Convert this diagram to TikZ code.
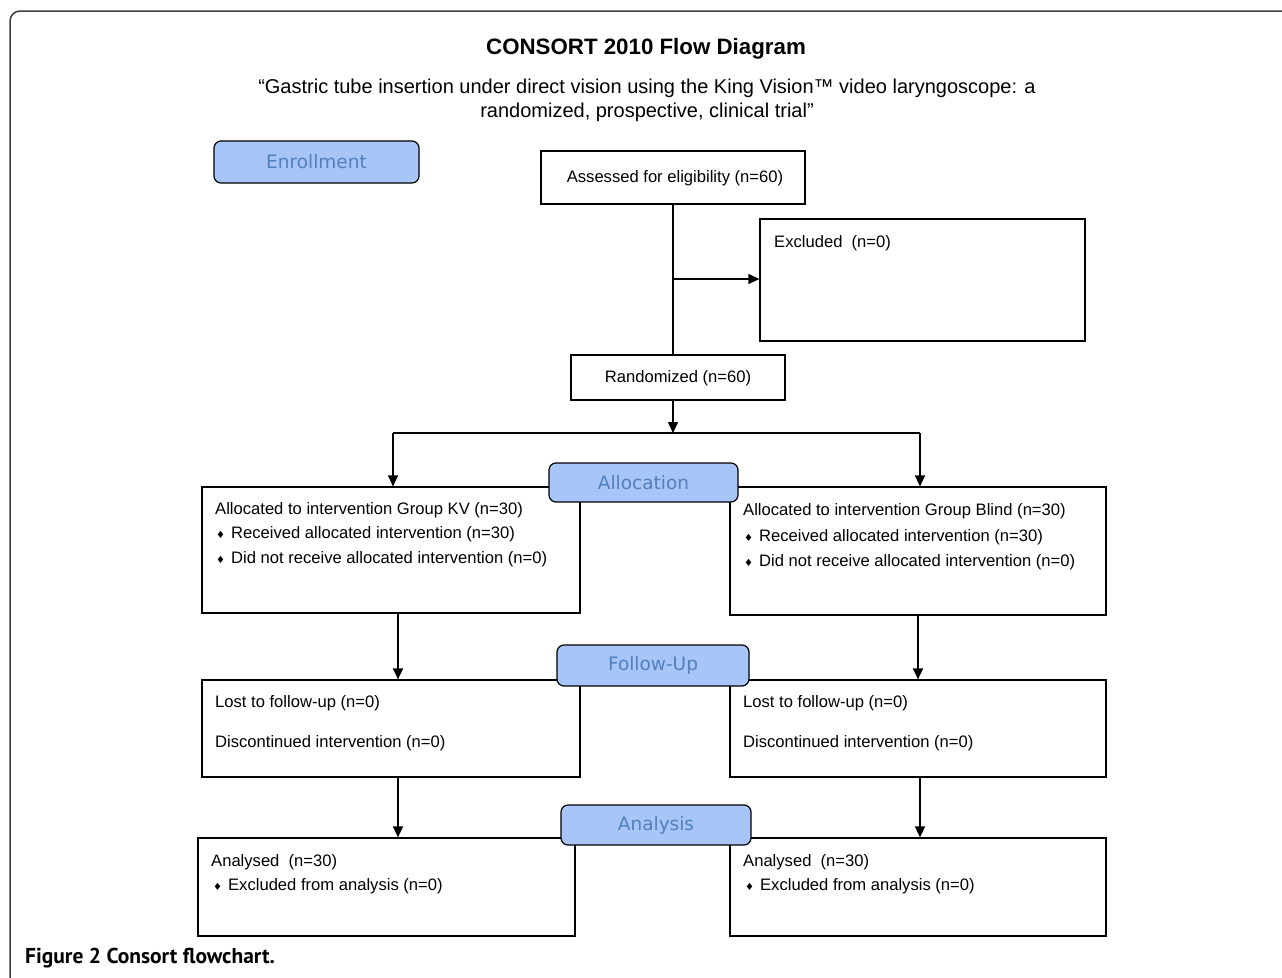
\documentclass[tikz,border=0pt]{standalone}
\usepackage{fontspec}
\setmainfont{Liberation Sans}
\newfontfamily\labfont{DejaVu Sans}
\newfontfamily\capfont{PT Sans}
\usetikzlibrary{arrows.meta,fit}
\definecolor{labfill}{RGB}{168,197,247}
\definecolor{labtext}{RGB}{80,128,190}
\definecolor{framegray}{RGB}{60,60,60}
\newcommand\bul{\raisebox{0.8pt}{\labfont\fontsize{10}{10}\selectfont ♦}\hspace{6pt}}
\begin{document}
\begin{tikzpicture}[x=1pt,y=-1pt,
 box/.style={draw, line width=1.2pt, inner sep=0pt},
 lab/.style={draw, line width=1.2pt, rounded corners=7pt, fill=labfill, text=labtext, inner sep=0pt, font=\labfont\fontsize{18.5}{18.5}\selectfont},
 txt/.style={anchor=west, inner sep=0pt, yshift=-1.5pt, font=\fontsize{16.6}{18}\selectfont},
 ctxt/.style={inner sep=0pt, yshift=-1pt, font=\fontsize{16.6}{18}\selectfont},
 conn/.style={line width=1.4pt},
 arr/.style={conn, -{Triangle[length=11pt,width=10pt]}}]
\useasboundingbox (0,0) rectangle (1282,977);
\fill[white] (0,0) rectangle (1282,977);
\draw[framegray, line width=1.5pt, rounded corners=10pt] (10,990) -- (10,11) -- (1295,11);
% titles
\node[inner sep=0pt, font=\bfseries\fontsize{22.3}{24}\selectfont] (title) at (646,49) {CONSORT 2010 Flow Diagram};
\node[inner sep=0pt, align=center, font=\fontsize{20}{24}\selectfont] (sub) at (647,100.5) {“Gastric tube insertion under direct vision using the King Vision™ video laryngoscope: a\\randomized, prospective, clinical trial”};
% boxes
\node[box, fit={(541,151) (805,204)}] (assess) {};
\node[ctxt] (assessT) at (675,177.5) {Assessed for eligibility (n=60)};
\node[box, fit={(760,219) (1085,341)}] (excl) {};
\node[txt] (exclT) at (774,242) {Excluded~ (n=0)};
\node[box, fit={(571,355) (785,400)}] (rand) {};
\node[ctxt] (randT) at (rand) {Randomized (n=60)};
\node[box, fit={(202,487) (580,613)}] (kv) {};
\node[txt] (kv1) at (215,509) {Allocated to intervention Group KV (n=30)};
\node[txt] (kv2) at (216,533) {\bul Received allocated intervention (n=30)};
\node[txt] (kv3) at (216,558) {\bul Did not receive allocated intervention (n=0)};
\node[box, fit={(730,487) (1106,615)}] (blind) {};
\node[txt] (bl1) at (743,510) {Allocated to intervention Group Blind (n=30)};
\node[txt] (bl2) at (744,536) {\bul Received allocated intervention (n=30)};
\node[txt] (bl3) at (744,561) {\bul Did not receive allocated intervention (n=0)};
\node[box, fit={(202,680) (580,777)}] (fuL) {};
\node[txt] (fuL1) at (215,702) {Lost to follow-up (n=0)};
\node[txt] (fuL2) at (215,742) {Discontinued intervention (n=0)};
\node[box, fit={(730,680) (1106,777)}] (fuR) {};
\node[txt] (fuR1) at (743,702) {Lost to follow-up (n=0)};
\node[txt] (fuR2) at (743,742) {Discontinued intervention (n=0)};
\node[box, fit={(198,838) (575,936)}] (anL) {};
\node[txt] (anL1) at (211,861) {Analysed~ (n=30)};
\node[txt] (anL2) at (213,885) {\bul Excluded from analysis (n=0)};
\node[box, fit={(730,838) (1106,936)}] (anR) {};
\node[txt] (anR1) at (743,861) {Analysed~ (n=30)};
\node[txt] (anR2) at (745,885) {\bul Excluded from analysis (n=0)};
% connectors
\coordinate (br) at (673,279);
\coordinate (split) at (673,433);
\draw[conn] (assess.south) -- (assess.south |- rand.north);
\draw[arr] (br) -- (br -| excl.west);
\draw[arr] (split |- rand.south) -- (split);
\coordinate (splitL) at (393,433);
\coordinate (splitR) at (920,433);
\draw[conn] (splitL) -- (splitR);
\draw[arr] (splitL) -- (splitL |- kv.north);
\draw[arr] (splitR) -- (splitR |- blind.north);
\draw[arr] ([xshift=7pt]kv.south) -- ([xshift=7pt]kv.south |- fuL.north);
\draw[arr] (blind.south) -- (blind.south |- fuR.north);
\draw[arr] ([xshift=7pt]fuL.south) -- ([xshift=7pt]fuL.south |- anL.north);
\draw[arr] ([xshift=2pt]fuR.south) -- ([xshift=2pt]fuR.south |- anR.north);
% stage labels
\node[lab, minimum width=205pt, minimum height=42pt] (enroll) at (316.5,162) {Enrollment};
\node[lab, minimum width=189pt, minimum height=39pt] (alloc) at (643.5,482.5) {Allocation};
\node[lab, minimum width=192pt, minimum height=41pt] (follow) at (653,665.5) {Follow-Up};
\node[lab, minimum width=190pt, minimum height=40pt] (analysis) at (656,825) {Analysis};
% caption
\node[anchor=west, inner sep=0pt, font=\capfont\bfseries\fontsize{21.5}{24}\selectfont] (cap) at (25,958) {Figure 2 Consort flowchart.};
\end{tikzpicture}
\end{document}
